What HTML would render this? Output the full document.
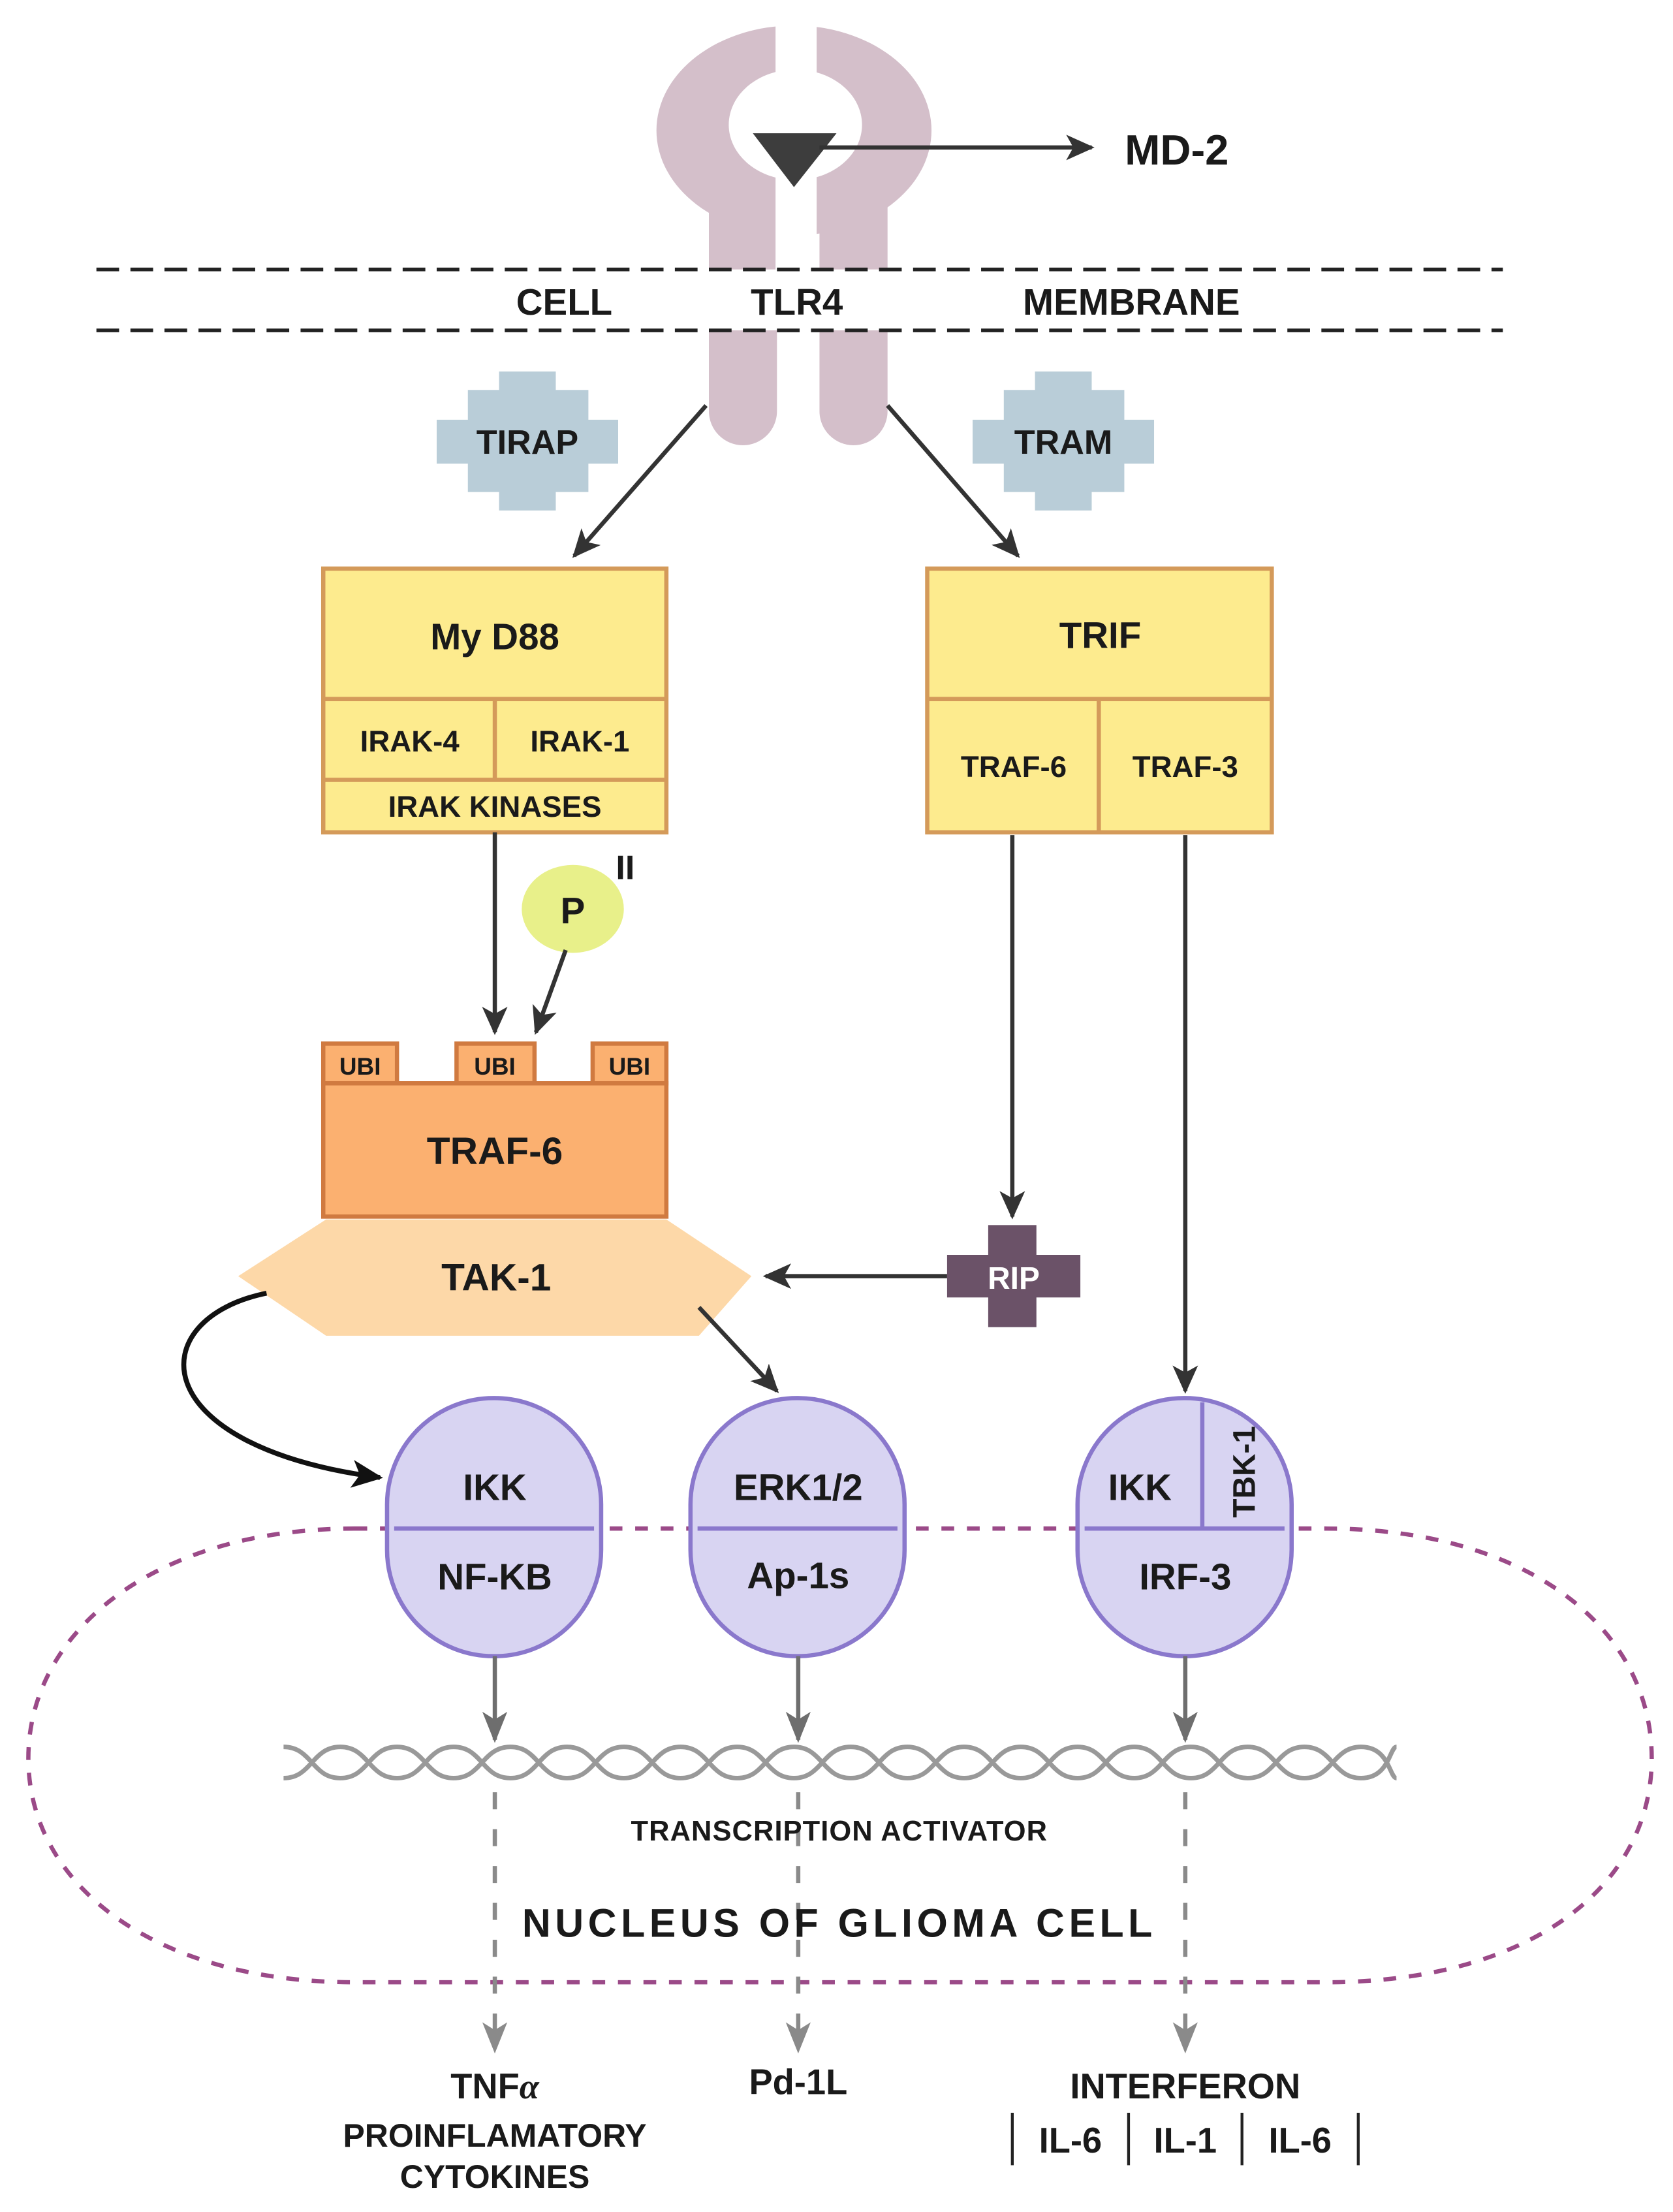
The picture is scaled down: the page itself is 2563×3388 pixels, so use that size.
<!DOCTYPE html>
<html><head><meta charset="utf-8"><style>
html,body{margin:0;padding:0;background:#fff}
svg{display:block}
text{font-family:"Liberation Sans",sans-serif;font-weight:bold;fill:#1a1a1a;text-anchor:middle}
</style></head><body>
<svg width="2563" height="3388" viewBox="0 0 1180 1560" preserveAspectRatio="none" xmlns="http://www.w3.org/2000/svg">
<defs>
<marker id="ah" viewBox="0 0 20 20" refX="18" refY="10" markerWidth="20" markerHeight="20" markerUnits="userSpaceOnUse" orient="auto">
<path d="M0,1 L20,10 L0,19 L5,10 Z" fill="#333"/></marker>
<marker id="ak" viewBox="0 0 20 20" refX="18" refY="10" markerWidth="22" markerHeight="22" markerUnits="userSpaceOnUse" orient="auto">
<path d="M0,1 L20,10 L0,19 L5,10 Z" fill="#111"/></marker>
<marker id="ag" viewBox="0 0 20 20" refX="18" refY="10" markerWidth="22" markerHeight="22" markerUnits="userSpaceOnUse" orient="auto">
<path d="M0,2 L20,10 L0,18 L5,10 Z" fill="#6e6e6e"/></marker>
<marker id="al" viewBox="0 0 20 20" refX="18" refY="10" markerWidth="22" markerHeight="22" markerUnits="userSpaceOnUse" orient="auto">
<path d="M0,2 L20,10 L0,18 L5,10 Z" fill="#8a8a8a"/></marker>
</defs>

<!-- TLR4 receptor -->
<g fill="#d4bfca">
<ellipse cx="560" cy="92" rx="97" ry="74"/>
<rect x="500" y="120" width="48" height="70"/>
<rect x="578" y="120" width="48" height="70"/>
<path d="M500,233 H548 V290 A24,24 0 0 1 500,290 Z"/>
<path d="M578,233 H626 V290 A24,24 0 0 1 578,290 Z"/>
</g>
<ellipse cx="561" cy="88" rx="47" ry="39" fill="#fff"/>
<rect x="547" y="15" width="29" height="176" fill="#fff"/>
<path d="M531,94 L590,94 L560,132 Z" fill="#3d3d3d"/>
<line x1="578" y1="104" x2="770" y2="104" stroke="#333" stroke-width="3" marker-end="url(#ah)"/>
<text x="830" y="116" font-size="30">MD-2</text>

<!-- membrane -->
<g stroke="#222" stroke-width="2.6" stroke-dasharray="16,8">
<line x1="68" y1="190" x2="1060" y2="190"/>
<line x1="68" y1="233" x2="1060" y2="233"/>
</g>
<text x="398" y="222" font-size="26">CELL</text>
<text x="562" y="222" font-size="26">TLR4</text>
<text x="798" y="222" font-size="26">MEMBRANE</text>

<!-- TIRAP / TRAM crosses -->
<g fill="#b9cdd8">
<path d="M352,262 H392 V275 H415 V296 H436 V327 H415 V347 H392 V360 H352 V347 H330 V327 H308 V296 H330 V275 H352 Z"/>
<path d="M730,262 H770 V275 H793 V296 H814 V327 H793 V347 H770 V360 H730 V347 H708 V327 H686 V296 H708 V275 H730 Z"/>
</g>
<text x="372" y="320" font-size="24">TIRAP</text>
<text x="750" y="320" font-size="24">TRAM</text>

<line x1="498" y1="286" x2="405" y2="392" stroke="#333" stroke-width="3" marker-end="url(#ah)"/>
<line x1="626" y1="286" x2="718" y2="392" stroke="#333" stroke-width="3" marker-end="url(#ah)"/>

<!-- MyD88 box -->
<g fill="#fdeb8e" stroke="#d49a5a" stroke-width="3">
<rect x="228" y="401" width="242" height="186"/>
<line x1="228" y1="493" x2="470" y2="493"/>
<line x1="228" y1="550" x2="470" y2="550"/>
<line x1="349" y1="493" x2="349" y2="550"/>
</g>
<text x="349" y="458" font-size="26">My D88</text>
<text x="289" y="530" font-size="21">IRAK-4</text>
<text x="409" y="530" font-size="21">IRAK-1</text>
<text x="349" y="576" font-size="21">IRAK KINASES</text>

<!-- TRIF box -->
<g fill="#fdeb8e" stroke="#d49a5a" stroke-width="3">
<rect x="654" y="401" width="243" height="186"/>
<line x1="654" y1="493" x2="897" y2="493"/>
<line x1="775" y1="493" x2="775" y2="587"/>
</g>
<text x="776" y="457" font-size="26">TRIF</text>
<text x="715" y="548" font-size="21">TRAF-6</text>
<text x="836" y="548" font-size="21">TRAF-3</text>

<!-- P -->
<line x1="349" y1="587" x2="349" y2="728" stroke="#333" stroke-width="3" marker-end="url(#ah)"/>
<ellipse cx="404" cy="641" rx="36" ry="31" fill="#e8f08a"/>
<text x="404" y="651" font-size="26">P</text>
<text x="441" y="620" font-size="24">II</text>
<line x1="399" y1="670" x2="378" y2="728" stroke="#333" stroke-width="3" marker-end="url(#ah)"/>

<!-- UBI + TRAF-6 -->
<g fill="#fbb070" stroke="#d07a40" stroke-width="3">
<rect x="228" y="736" width="52" height="28"/>
<rect x="322" y="736" width="55" height="28"/>
<rect x="418" y="736" width="52" height="28"/>
<rect x="228" y="764" width="242" height="94"/>
</g>
<text x="254" y="758" font-size="17">UBI</text>
<text x="349" y="758" font-size="17">UBI</text>
<text x="444" y="758" font-size="17">UBI</text>
<text x="349" y="821" font-size="27">TRAF-6</text>

<!-- TAK-1 -->
<path d="M168,900 L230,860 L470,860 L530,900 L493,942 L230,942 Z" fill="#fdd8a8"/>
<text x="350" y="910" font-size="27">TAK-1</text>

<!-- right arrows -->
<line x1="714" y1="589" x2="714" y2="858" stroke="#333" stroke-width="3" marker-end="url(#ah)"/>
<line x1="836" y1="589" x2="836" y2="981" stroke="#333" stroke-width="3" marker-end="url(#ah)"/>
<path d="M697,864 H731 V885 H762 V915 H731 V936 H697 V915 H668 V885 H697 Z" fill="#6b5268"/>
<text x="715" y="909" font-size="22" style="fill:#fff">RIP</text>
<line x1="668" y1="900" x2="540" y2="900" stroke="#333" stroke-width="3" marker-end="url(#ah)"/>

<path d="M188,912 C100,930 100,1020 268,1042" fill="none" stroke="#111" stroke-width="3.5" marker-end="url(#ak)"/>
<line x1="493" y1="922" x2="548" y2="981" stroke="#333" stroke-width="3" marker-end="url(#ah)"/>

<!-- nucleus -->
<path d="M250,1078 H935 C1080,1078 1165,1150 1165,1240 C1165,1330 1080,1398 935,1398 H250 C110,1398 20,1330 20,1240 C20,1150 110,1078 250,1078 Z" fill="none" stroke="#9b4a88" stroke-width="3" stroke-dasharray="9,9"/>

<!-- pills -->
<g fill="#d8d4f2" stroke="#8a78cc" stroke-width="3">
<rect x="273" y="986" width="151" height="182" rx="75" ry="75"/>
<rect x="487" y="986" width="151" height="182" rx="75" ry="75"/>
<rect x="760" y="986" width="151" height="182" rx="75" ry="75"/>
<line x1="278" y1="1078" x2="419" y2="1078"/>
<line x1="492" y1="1078" x2="633" y2="1078"/>
<line x1="765" y1="1078" x2="906" y2="1078"/>
<line x1="848" y1="989" x2="848" y2="1078"/>
</g>
<text x="349" y="1058" font-size="26">IKK</text>
<text x="349" y="1121" font-size="26">NF-KB</text>
<text x="563" y="1058" font-size="26">ERK1/2</text>
<text x="563" y="1120" font-size="26">Ap-1s</text>
<text x="804" y="1058" font-size="26">IKK</text>
<text x="836" y="1121" font-size="26">IRF-3</text>
<text x="0" y="0" font-size="22" transform="translate(885,1038) rotate(-90)">TBK-1</text>

<!-- gray arrows -->
<g stroke="#6e6e6e" stroke-width="3">
<line x1="349" y1="1168" x2="349" y2="1227" marker-end="url(#ag)"/>
<line x1="563" y1="1168" x2="563" y2="1227" marker-end="url(#ag)"/>
<line x1="836" y1="1168" x2="836" y2="1227" marker-end="url(#ag)"/>
</g>

<!-- DNA -->
<g fill="none" stroke="#999" stroke-width="3.2">
<path d="M200,1232 C220,1232 220,1254 240,1254 S260,1232 280,1232 S300,1254 320,1254 S340,1232 360,1232 S380,1254 400,1254 S420,1232 440,1232 S460,1254 480,1254 S500,1232 520,1232 S540,1254 560,1254 S580,1232 600,1232 S620,1254 640,1254 S660,1232 680,1232 S700,1254 720,1254 S740,1232 760,1232 S780,1254 800,1254 S820,1232 840,1232 S860,1254 880,1254 S900,1232 920,1232 S940,1254 960,1254 S980,1232 985,1232"/>
<path d="M200,1254 C220,1254 220,1232 240,1232 S260,1254 280,1254 S300,1232 320,1232 S340,1254 360,1254 S380,1232 400,1232 S420,1254 440,1254 S460,1232 480,1232 S500,1254 520,1254 S540,1232 560,1232 S580,1254 600,1254 S620,1232 640,1232 S660,1254 680,1254 S700,1232 720,1232 S740,1254 760,1254 S780,1232 800,1232 S820,1254 840,1254 S860,1232 880,1232 S900,1254 920,1254 S940,1232 960,1232 S980,1254 985,1254"/>
</g>

<!-- dashed gray -->
<g stroke="#8a8a8a" stroke-width="3" stroke-dasharray="12,14">
<line x1="349" y1="1264" x2="349" y2="1446" marker-end="url(#al)"/>
<line x1="563" y1="1264" x2="563" y2="1446" marker-end="url(#al)"/>
<line x1="836" y1="1264" x2="836" y2="1446" marker-end="url(#al)"/>
</g>

<text x="592" y="1298" font-size="20" style="letter-spacing:0.5px">TRANSCRIPTION ACTIVATOR</text>
<text x="592" y="1366" font-size="28" style="letter-spacing:3px">NUCLEUS OF GLIOMA CELL</text>

<text x="349" y="1480" font-size="25">TNF<tspan font-style="italic" font-family="Liberation Serif">α</tspan></text>
<text x="349" y="1514" font-size="23">PROINFLAMATORY</text>
<text x="349" y="1543" font-size="23">CYTOKINES</text>
<text x="563" y="1477" font-size="25">Pd-1L</text>
<text x="836" y="1480" font-size="25">INTERFERON</text>
<text x="755" y="1518" font-size="25">IL-6</text>
<text x="836" y="1518" font-size="25">IL-1</text>
<text x="917" y="1518" font-size="25">IL-6</text>
<g stroke="#222" stroke-width="2">
<line x1="714" y1="1490" x2="714" y2="1527"/>
<line x1="796" y1="1490" x2="796" y2="1527"/>
<line x1="876" y1="1490" x2="876" y2="1527"/>
<line x1="958" y1="1490" x2="958" y2="1527"/>
</g>
</svg>
</body></html>
